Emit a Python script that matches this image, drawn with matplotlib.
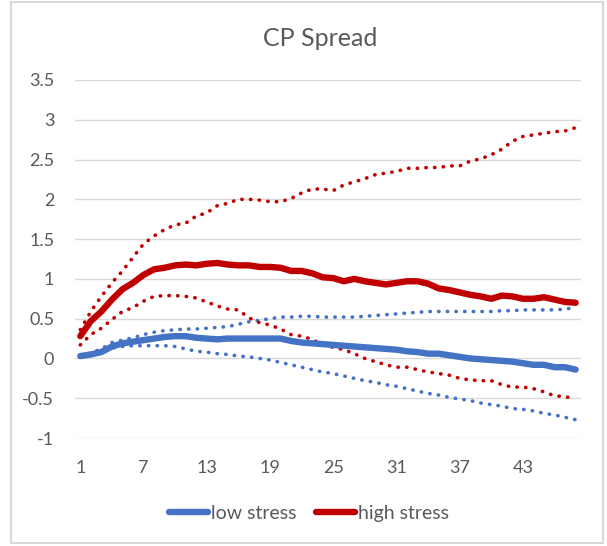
import matplotlib
matplotlib.use("Agg")
import matplotlib.pyplot as plt
from matplotlib.patches import Rectangle

plt.rcParams['font.family'] = ['Lato', 'DejaVu Sans']

periods = list(range(1, 49))
xtick_labels = [1, 7, 13, 19, 25, 31, 37, 43]

low_mid = [0.03, 0.05, 0.08, 0.15, 0.19, 0.21, 0.23, 0.25, 0.27, 0.28,
           0.28, 0.26, 0.25, 0.24, 0.25, 0.25, 0.25, 0.25, 0.25, 0.25,
           0.22, 0.20, 0.19, 0.18, 0.17, 0.16, 0.15, 0.14, 0.13, 0.12,
           0.11, 0.09, 0.08, 0.06, 0.06, 0.04, 0.02, 0.00, -0.01, -0.02,
           -0.03, -0.04, -0.06, -0.08, -0.08, -0.11, -0.11, -0.14]
low_up = [0.03, 0.07, 0.12, 0.20, 0.23, 0.26, 0.30, 0.33, 0.35, 0.36,
          0.37, 0.37, 0.38, 0.39, 0.40, 0.43, 0.46, 0.48, 0.50, 0.52,
          0.52, 0.53, 0.53, 0.52, 0.52, 0.52, 0.52, 0.53, 0.54, 0.55,
          0.56, 0.57, 0.58, 0.59, 0.59, 0.59, 0.59, 0.59, 0.59, 0.59,
          0.60, 0.60, 0.61, 0.61, 0.61, 0.61, 0.62, 0.64]
low_dn = [0.03, 0.05, 0.09, 0.13, 0.15, 0.16, 0.16, 0.16, 0.16, 0.15,
          0.12, 0.09, 0.08, 0.06, 0.05, 0.03, 0.02, 0.00, -0.02, -0.05,
          -0.08, -0.11, -0.14, -0.17, -0.19, -0.22, -0.25, -0.28, -0.30, -0.33,
          -0.35, -0.38, -0.41, -0.44, -0.46, -0.49, -0.51, -0.53, -0.56, -0.58,
          -0.60, -0.63, -0.64, -0.66, -0.69, -0.71, -0.74, -0.77]

high_mid = [0.28, 0.47, 0.59, 0.74, 0.87, 0.95, 1.05, 1.12, 1.14, 1.17,
            1.18, 1.17, 1.19, 1.20, 1.18, 1.17, 1.17, 1.15, 1.15, 1.14,
            1.10, 1.10, 1.07, 1.02, 1.01, 0.97, 1.00, 0.97, 0.95, 0.93,
            0.95, 0.97, 0.97, 0.94, 0.88, 0.86, 0.83, 0.80, 0.78, 0.75,
            0.79, 0.78, 0.75, 0.75, 0.77, 0.74, 0.71, 0.70]
high_up = [0.36, 0.59, 0.78, 0.95, 1.10, 1.27, 1.44, 1.54, 1.62, 1.68,
           1.70, 1.79, 1.83, 1.92, 1.95, 2.00, 2.00, 1.99, 1.97, 1.97,
           2.01, 2.08, 2.13, 2.13, 2.11, 2.18, 2.22, 2.26, 2.31, 2.33,
           2.35, 2.39, 2.39, 2.40, 2.40, 2.42, 2.42, 2.48, 2.51, 2.56,
           2.63, 2.73, 2.79, 2.81, 2.83, 2.85, 2.86, 2.90]
high_dn = [0.17, 0.30, 0.38, 0.49, 0.59, 0.64, 0.72, 0.78, 0.79, 0.79,
           0.78, 0.76, 0.71, 0.66, 0.62, 0.61, 0.51, 0.45, 0.42, 0.37,
           0.30, 0.28, 0.24, 0.17, 0.14, 0.11, 0.06, 0.00, -0.04, -0.08,
           -0.11, -0.11, -0.14, -0.17, -0.19, -0.21, -0.25, -0.27, -0.28, -0.28,
           -0.33, -0.36, -0.36, -0.38, -0.42, -0.47, -0.48, -0.51]

blue = '#4472C4'
red = '#C00000'
txt = '#595959'

fig = plt.figure(figsize=(6.07, 5.46), dpi=100)
ax = fig.add_axes([0.1236, 0.1978, 0.8334, 0.6557])

# dotted bands first, thick means on top
dot = dict(lw=2.6, linestyle=(0, (0.1, 2.3)), dash_capstyle='round')
ax.plot(periods, low_up, color=blue, **dot)
ax.plot(periods, low_dn, color=blue, **dot)
ax.plot(periods, high_up, color=red, **dot)
ax.plot(periods, high_dn, color=red, **dot)
ax.plot(periods, low_mid, color=blue, lw=4.6, solid_capstyle='round', label='low stress')
ax.plot(periods, high_mid, color=red, lw=4.6, solid_capstyle='round', label='high stress')

ax.set_xlim(0.5, 48.5)
ax.set_ylim(-1, 3.5)
ax.set_yticks([-1, -0.5, 0, 0.5, 1, 1.5, 2, 2.5, 3, 3.5])
ax.set_yticklabels(['-1', '-0.5', '0', '0.5', '1', '1.5', '2', '2.5', '3', '3.5'])
ax.set_xticks(xtick_labels)
ax.grid(axis='y', color='#D9D9D9', lw=1)
ax.set_axisbelow(True)
for s in ax.spines.values():
    s.set_visible(False)
ax.tick_params(length=0, labelsize=13, colors=txt)
ax.tick_params(axis='y', pad=15)
ax.tick_params(axis='x', pad=16)

fig.text(0.527, 0.93, 'CP Spread', ha='center', va='center', fontsize=18, color=txt)
fig.legend(loc='center', bbox_to_anchor=(0.509, 0.06), ncol=2, frameon=False,
           fontsize=14, labelcolor=txt, handlelength=2.0, handletextpad=0.15,
           columnspacing=1.0)

# light frame of the chart box
fig.patches.append(Rectangle((11 / 607, 3 / 546), 592 / 607, 541 / 546,
                             transform=fig.transFigure, fill=False,
                             edgecolor='#D9D9D9', lw=1.5))

fig.savefig('out.png', dpi=100)
